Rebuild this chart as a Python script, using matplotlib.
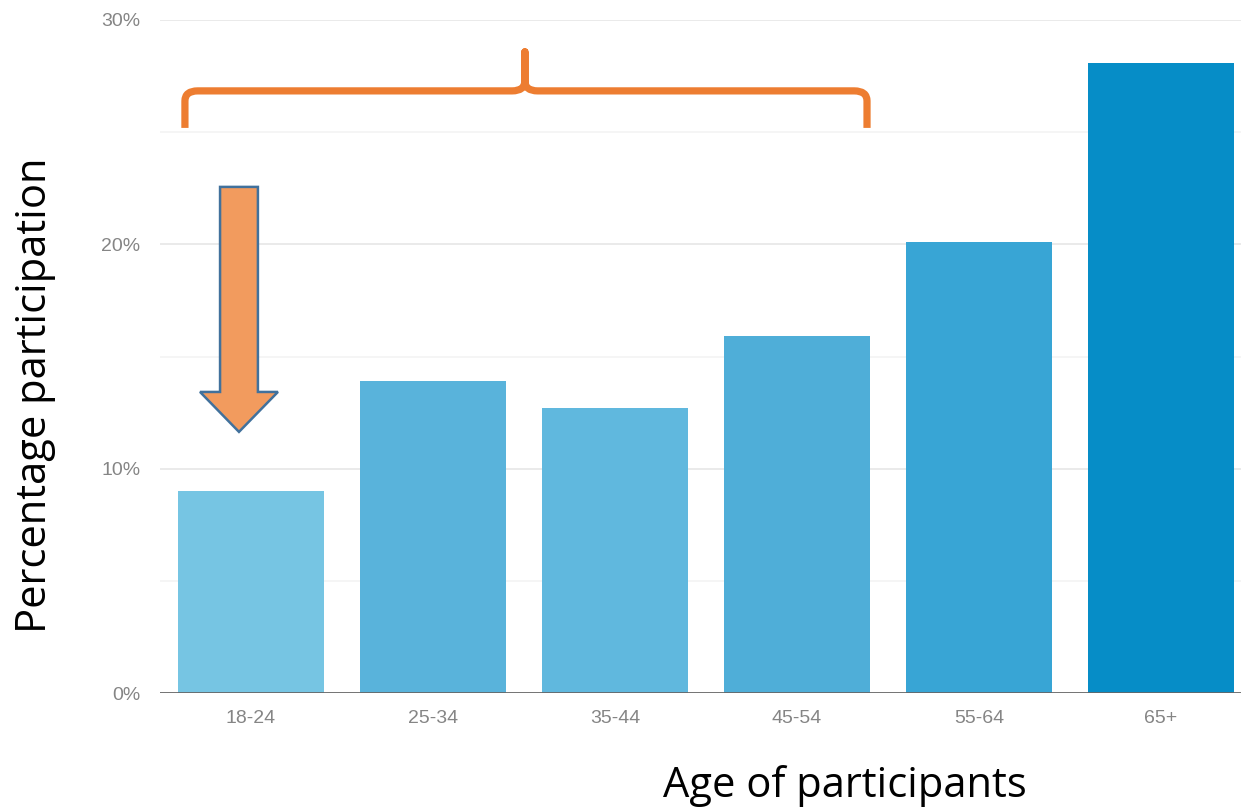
import matplotlib
matplotlib.use("Agg")
import matplotlib.pyplot as plt
from matplotlib.path import Path
from matplotlib.patches import PathPatch, Polygon

categories = ["18-24", "25-34", "35-44", "45-54", "55-64", "65+"]
values = [9.0, 13.9, 12.7, 15.9, 20.1, 28.1]
colors = ["#76C5E3", "#59B3DB", "#60B8DE", "#4FAED8", "#38A5D5", "#068DC7"]
ytick_vals = [0, 10, 20, 30]
ytick_labels = ["0%", "10%", "20%", "30%"]

fig = plt.figure(figsize=(12.41, 8.10), dpi=100)
ax = fig.add_axes([160/1241, 1-693/810, 1-160/1241, (693-20)/810])

x = list(range(len(categories)))
ax.bar(x, values, width=0.8, color=colors, zorder=3)
ax.set_xlim(-0.5, 5.44)
ax.set_ylim(0, 30)

for v in [5, 15, 25]:
    ax.axhline(v, color="#F3F3F3", lw=1.2, zorder=1)
for v in [10, 20, 30]:
    ax.axhline(v, color="#E8E8E8", lw=1.3, zorder=1)
ax.axhline(0, color="#666666", lw=2, zorder=4)

for s in ax.spines.values():
    s.set_visible(False)
ax.set_xticks(x)
ax.set_xticklabels(categories)
ax.set_yticks(ytick_vals)
ax.set_yticklabels(ytick_labels)
ax.tick_params(length=0, labelsize=14)
for t in ax.get_xticklabels() + ax.get_yticklabels():
    t.set_fontfamily("Liberation Sans")
    t.set_color("#858585")
ax.tick_params(axis="y", pad=14)
ax.tick_params(axis="x", pad=12)

fig.text(35/1241, 1-395/810, "Percentage participation", rotation=90,
         ha="center", va="center", fontsize=30, family="Open Sans")
fig.text(845/1241, 1-786/810, "Age of participants",
         ha="center", va="center", fontsize=30, family="Open Sans")

# brace (data coordinates)
xl, xr, xc = -0.363, 3.385, 1.505
yb, yt, yp = 25.19, 26.84, 28.58
rx, ry = 0.07, 0.45
orange = "#ED7D31"
verts = [
    (xl, yb), (xl, yt - ry), (xl, yt), (xl + rx, yt),
    (xc - rx, yt), (xc, yt), (xc, yt + ry), (xc, yp),
    (xc, yt + ry), (xc, yt), (xc + rx, yt),
    (xr - rx, yt), (xr, yt), (xr, yt - ry), (xr, yb),
]
codes = [Path.MOVETO, Path.LINETO, Path.CURVE3, Path.CURVE3,
         Path.LINETO, Path.CURVE3, Path.CURVE3, Path.LINETO,
         Path.LINETO, Path.CURVE3, Path.CURVE3,
         Path.LINETO, Path.CURVE3, Path.CURVE3, Path.LINETO]
ax.add_patch(PathPatch(Path(verts, codes), fill=False, edgecolor=orange,
                       lw=5.2, capstyle="butt", joinstyle="round", zorder=5, clip_on=False))

# arrow
cx = -0.066
tw, hw = 0.104, 0.214
y_top, y_neck, y_tip = 22.56, 13.42, 11.64
arrow = [(cx - tw, y_top), (cx + tw, y_top), (cx + tw, y_neck), (cx + hw, y_neck),
         (cx, y_tip), (cx - hw, y_neck), (cx - tw, y_neck)]
ax.add_patch(Polygon(arrow, closed=True, facecolor="#F29B5E", edgecolor="#41719C",
                     lw=1.8, zorder=6))

fig.savefig("out.png", dpi=100)
